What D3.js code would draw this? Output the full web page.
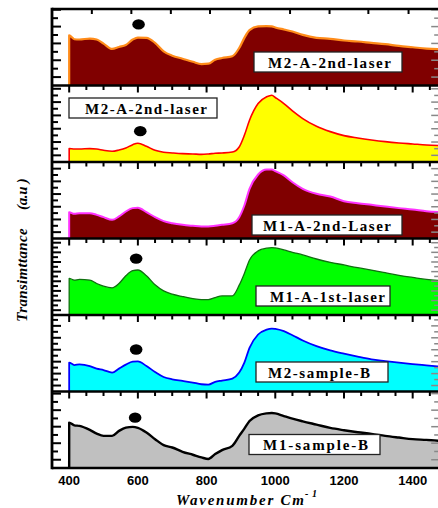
<!DOCTYPE html>
<html>
<head>
<meta charset="utf-8">
<script src="https://cdn.jsdelivr.net/npm/d3@7"></script>
<style>
  body { margin: 0; background: #fff; }
  svg { display: block; }
</style>
</head>
<body>
<svg id="chart" width="438" height="508"></svg>
<script>
// Wavenumber grid (cm^-1) shared by all spectra
const wavenumber = [400, 415, 430, 460, 480, 500, 525, 545, 565, 585, 600, 625, 650, 675, 700, 730, 760, 785, 805, 825, 845, 875, 895, 910, 925, 950, 975, 990, 1000, 1025, 1050, 1080, 1120, 1160, 1200, 1240, 1280, 1320, 1360, 1400, 1440, 1480];

// Sample names, one per stacked panel (top to bottom)
const sampleNames = ["M2-A-2nd-laser", "M2-A-2nd-laser", "M1-A-2nd-Laser", "M1-A-1st-laser", "M2-sample-B", "M1-sample-B"];

// Transmittance (a.u.) of each sample, in percent of its panel range
const m2A2ndLaserUpper = [65.4, 60.5, 60.1, 61.4, 60.1, 54.8, 47.8, 50.4, 53.0, 60.1, 62.7, 62.3, 55.7, 44.7, 39.0, 35.0, 31.0, 28.0, 28.5, 33.8, 36.0, 38.2, 49.0, 62.3, 72.4, 77.2, 77.6, 77.2, 75.9, 73.2, 70.6, 66.2, 62.3, 61.0, 58.8, 57.5, 55.7, 54.0, 51.8, 50.0, 48.2, 47.4];
const m2A2ndLaserLower = [17.5, 17.0, 17.0, 17.5, 17.0, 15.3, 14.0, 15.7, 18.3, 22.7, 24.5, 20.5, 15.3, 12.7, 11.8, 10.9, 10.5, 10.0, 10.5, 11.4, 11.8, 13.1, 19.7, 34.9, 54.6, 76.4, 85.2, 87.3, 84.3, 76.4, 66.8, 56.8, 46.7, 39.7, 34.5, 31.4, 28.8, 26.6, 24.9, 23.6, 22.3, 21.4];
const m1A2ndLaser = [34.4, 32.2, 33.1, 33.1, 30.9, 27.9, 24.4, 28.8, 35.3, 39.7, 40.1, 34.4, 27.9, 22.7, 20.0, 17.9, 16.6, 15.7, 15.7, 16.6, 17.9, 20.0, 27.9, 43.1, 64.9, 83.7, 90.2, 90.2, 88.0, 82.4, 73.6, 64.9, 58.4, 54.9, 48.8, 46.2, 44.0, 41.8, 39.7, 37.9, 35.7, 34.4];
const m1A1stLaser = [47.8, 45.6, 46.5, 45.6, 41.2, 37.7, 35.5, 41.2, 51.3, 57.9, 58.8, 51.3, 39.5, 31.6, 27.2, 24.1, 21.5, 20.2, 20.2, 22.8, 25.0, 25.0, 39.0, 54.4, 71.9, 83.8, 87.3, 88.2, 87.7, 85.1, 82.0, 78.5, 73.2, 68.9, 65.4, 61.8, 58.8, 55.3, 51.8, 49.1, 46.5, 45.2];
const m2SampleB = [37.7, 34.6, 35.5, 33.3, 29.9, 28.1, 24.7, 29.9, 35.1, 39.0, 39.4, 33.3, 25.5, 19.0, 16.0, 13.9, 11.7, 9.5, 9.1, 12.6, 14.3, 16.9, 24.7, 37.7, 57.1, 74.5, 81.0, 82.3, 81.8, 78.8, 73.6, 66.7, 59.3, 53.7, 49.4, 45.5, 42.0, 39.8, 37.7, 35.9, 34.2, 32.5];
const m1SampleB = [59.3, 55.8, 55.0, 49.8, 45.0, 42.0, 42.0, 48.5, 52.8, 53.7, 52.4, 46.3, 37.7, 29.9, 26.8, 21.2, 17.3, 13.9, 11.7, 18.2, 23.4, 29.0, 42.0, 51.5, 61.5, 68.8, 71.4, 71.9, 71.4, 67.9, 64.5, 61.0, 56.7, 52.4, 49.4, 46.8, 44.6, 42.0, 39.8, 37.7, 36.8, 35.5];

const spectra = [m2A2ndLaserUpper, m2A2ndLaserLower, m1A2ndLaser, m1A1stLaser, m2SampleB, m1SampleB];

// Band markers (filled dots) near 600 cm^-1; null where a panel has none
const markerWavenumber = [602, 607, null, 595, 595, 592];
const markerLevel = [79.9, 40.3, null, 73.7, 54.9, 65.8];

// Axis ticks
const xTickLabels = [400, 600, 800, 1000, 1200, 1400];
const xMinorTicks = d3.range(400, 1451, 50);
const topFrameTicks = [466, 581, 696, 810, 927, 1043, 1158, 1271, 1388];
const yTickStep = [11, 8.7, 8.3, 6.3, 7.8, 10.8];

// ---- layout & styling ----
const svg = d3.select("#chart");
const plotLeft = 52, plotTop = 9, plotBottom = 468;
const nPanels = spectra.length;
const panelH = (plotBottom - plotTop) / nPanels;

const x = d3.scaleLinear().domain([350, 1480]).range([plotLeft, plotLeft + 1130 * 0.3435]);

const panelStyle = [
  { fill: "#800000", stroke: "#ff8c1a", width: 2.2 },
  { fill: "#ffff00", stroke: "#ff0000", width: 1.6 },
  { fill: "#800000", stroke: "#ff33ff", width: 2.0 },
  { fill: "#00ff00", stroke: "#107010", width: 1.3 },
  { fill: "#00ffff", stroke: "#0000ff", width: 1.8 },
  { fill: "#c0c0c0", stroke: "#000000", width: 2.4 }
];
// label box: [left, right, top offset in panel, text start x, text width]
const labelBox = [
  [254, 402, 43, 268, 123],
  [69, 217, 12.5, 85, 122],
  [252, 402, 53, 263, 128],
  [256, 390, 47.5, 270, 115],
  [256, 388, 47, 268, 102],
  [249, 380, 43, 263, 105]
];

const clip = svg.append("defs").append("clipPath").attr("id", "plotClip")
  .append("rect").attr("x", plotLeft).attr("y", plotTop)
  .attr("width", 440 - plotLeft).attr("height", plotBottom - plotTop);

spectra.forEach((vals, i) => {
  const top = plotTop + i * panelH;
  const bottom = top + panelH;
  const y = d3.scaleLinear().domain([0, 100]).range([bottom, top]);
  const g = svg.append("g").attr("clip-path", "url(#plotClip)");
  const pts = wavenumber.map((w, k) => [w, vals[k]]);
  const st = panelStyle[i];

  const area = d3.area().x(d => x(d[0])).y0(y(0)).y1(d => y(d[1])).curve(d3.curveMonotoneX);
  g.append("path").attr("d", area(pts)).attr("fill", st.fill);

  const line = d3.line().x(d => x(d[0])).y(d => y(d[1])).curve(d3.curveMonotoneX);
  const outline = [[wavenumber[0], 0]].concat(pts);
  g.append("path").attr("d", line(outline))
    .attr("fill", "none").attr("stroke", st.stroke)
    .attr("stroke-width", st.width).attr("stroke-linejoin", "round");

  // band marker
  if (markerWavenumber[i] !== null) {
    svg.append("ellipse")
      .attr("cx", x(markerWavenumber[i])).attr("cy", y(markerLevel[i]))
      .attr("rx", 6.3).attr("ry", 5.2).attr("fill", "#000");
  }

  // left ticks (inward)
  const yt = d3.range(1, Math.floor(99 / yTickStep[i]) + 1).map(k => k * yTickStep[i]);
  yt.forEach((v, k) => {
    const len = (k % 2 === 0) ? 9 : 6;
    svg.append("line").attr("x1", plotLeft).attr("x2", plotLeft + len)
      .attr("y1", y(v)).attr("y2", y(v)).attr("stroke", "#000").attr("stroke-width", 2);
    svg.append("line").attr("x1", 440.2).attr("x2", 440.2 - len)
      .attr("y1", y(v)).attr("y2", y(v)).attr("stroke", "#888").attr("stroke-width", 1.5);
  });

  // top ticks (pointing down into the panel)
  if (i === 0) {
    topFrameTicks.forEach(t => {
      svg.append("line").attr("x1", x(t)).attr("x2", x(t))
        .attr("y1", top).attr("y2", top + 5).attr("stroke", "#000").attr("stroke-width", 2);
    });
  } else {
    xMinorTicks.forEach(t => {
      const major = xTickLabels.includes(t);
      svg.append("line").attr("x1", x(t)).attr("x2", x(t))
        .attr("y1", top).attr("y2", top + (major ? 7 : 4.5))
        .attr("stroke", "#000").attr("stroke-width", 2);
    });
  }

  // panel border line
  svg.append("line").attr("x1", plotLeft).attr("x2", 440)
    .attr("y1", top).attr("y2", top).attr("stroke", "#000").attr("stroke-width", 2.4);

  // sample label
  const [bx0, bx1, by, tx, tw] = labelBox[i];
  svg.append("rect").attr("x", bx0).attr("y", top + by)
    .attr("width", bx1 - bx0).attr("height", 20)
    .attr("fill", "#fff").attr("stroke", "#222").attr("stroke-width", 1.3);
  svg.append("text").attr("x", tx).attr("y", top + by + 15.5)
    .attr("textLength", tw).attr("lengthAdjust", "spacing")
    .style("font-family", "'Liberation Serif', 'Times New Roman', serif")
    .style("font-weight", "bold").style("font-size", "15px")
    .text(sampleNames[i]);
});

// bottom frame and left axis
svg.append("line").attr("x1", plotLeft).attr("x2", 440)
  .attr("y1", plotBottom).attr("y2", plotBottom).attr("stroke", "#000").attr("stroke-width", 2.6);
svg.append("line").attr("x1", plotLeft).attr("x2", plotLeft)
  .attr("y1", plotTop - 1.2).attr("y2", plotBottom + 1.3).attr("stroke", "#000").attr("stroke-width", 2.8);

// x tick labels
svg.append("g").selectAll("text").data(xTickLabels).join("text")
  .attr("x", d => x(d)).attr("y", 485)
  .attr("text-anchor", "middle")
  .style("font-family", "'Liberation Sans', Arial, sans-serif")
  .style("font-weight", "bold").style("font-size", "13px")
  .text(d => d);

// axis titles
const titleFont = "'Liberation Serif', 'Times New Roman', serif";
const xt = svg.append("text").attr("x", 176).attr("y", 505)
  .style("font-family", titleFont).style("font-weight", "bold")
  .style("font-style", "italic").style("font-size", "15px");
xt.append("tspan").attr("textLength", 128).attr("lengthAdjust", "spacing").text("Wavenumber  Cm");
svg.append("text").attr("x", 305).attr("y", 497)
  .style("font-family", titleFont).style("font-weight", "bold")
  .style("font-style", "italic").style("font-size", "10px")
  .attr("textLength", 12).attr("lengthAdjust", "spacing")
  .text("-1");

svg.append("text").attr("transform", "translate(26.5,321.7) rotate(-90)")
  .attr("textLength", 93.4).attr("lengthAdjust", "spacing")
  .style("font-family", titleFont).style("font-weight", "bold")
  .style("font-style", "italic").style("font-size", "15px")
  .text("Transimttance");
svg.append("text").attr("transform", "translate(26.5,210) rotate(-90)")
  .attr("textLength", 31.7).attr("lengthAdjust", "spacing")
  .style("font-family", titleFont).style("font-weight", "bold")
  .style("font-style", "italic").style("font-size", "15px")
  .text("(a.u )");
</script>
</body>
</html>
